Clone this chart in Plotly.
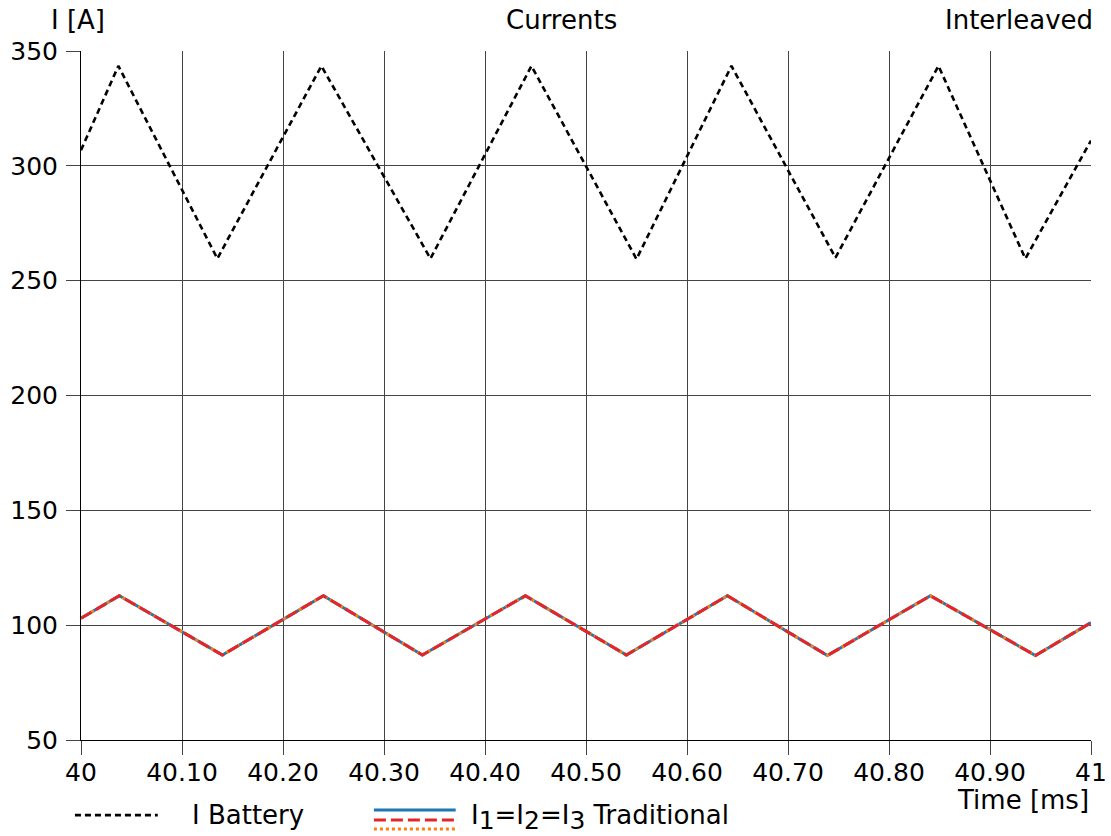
import plotly.graph_objects as go

# ---- data ----
t_battery = [40.0, 40.037, 40.135, 40.238, 40.346, 40.446, 40.550, 40.644, 40.747, 40.849, 40.935, 41.0]
i_battery = [306.8, 343.5, 259.6, 343.5, 259.6, 343.5, 259.4, 343.5, 260.0, 343.5, 259.6, 311.0]

t_phase = [40.0, 40.038, 40.140, 40.240, 40.338, 40.440, 40.540, 40.640, 40.739, 40.841, 40.945, 41.0]
i_1 = [103.0, 112.8, 87.0, 112.8, 87.0, 112.8, 87.0, 112.8, 86.8, 112.8, 86.8, 101.1]
i_2 = list(i_1)
i_3 = list(i_1)

x_tickvals = [40.0, 40.1, 40.2, 40.3, 40.4, 40.5, 40.6, 40.7, 40.8, 40.9, 41.0]
x_ticktext = ["40", "40.10", "40.20", "40.30", "40.40", "40.50", "40.60", "40.70", "40.80", "40.90", "41"]
y_tickvals = [50, 100, 150, 200, 250, 300, 350]

FONT = "DejaVu Sans"
FS_TICK = 25
FS_TEXT = 26
BLUE, RED, ORANGE, BLACK = "#1f77b4", "#e3262b", "#ff7f0e", "#000000"

fig = go.Figure()
fig.add_trace(go.Scatter(x=t_battery, y=i_battery, mode="lines", name="I Battery",
                         line=dict(color=BLACK, width=2.6, dash="6px,4px")))
fig.add_trace(go.Scatter(x=t_phase, y=i_1, mode="lines", name="I1",
                         line=dict(color=BLUE, width=3)))
fig.add_trace(go.Scatter(x=t_phase, y=i_3, mode="lines", name="I3",
                         line=dict(color=ORANGE, width=3, dash="3px,3px")))
fig.add_trace(go.Scatter(x=t_phase, y=i_2, mode="lines", name="I2",
                         line=dict(color=RED, width=3, dash="12px,5px")))

# ---- hand-drawn legend (stacked samples) ----
legend_samples = [
    (-0.006, 0.076, -0.109, BLACK, "6px,4px", 2.6),
    (0.290, 0.371, -0.1016, BLUE, "solid", 3),
    (0.290, 0.371, -0.1161, RED, "12px,5px", 3),
    (0.290, 0.371, -0.1292, ORANGE, "3px,3px", 3),
]
for x0, x1, yy, col, dash, w in legend_samples:
    fig.add_shape(type="line", xref="paper", yref="paper", x0=x0, x1=x1, y0=yy, y1=yy,
                  line=dict(color=col, width=w, dash=dash))

sub = lambda s: '<sub><span style="font-size:25px">%s</span></sub>' % s
ann_font = dict(family=FONT, size=FS_TEXT, color="black")
annotations = [
    dict(text="I Battery", x=0.108, y=-0.109, xanchor="left", yanchor="middle"),
    dict(text="I%s=I%s=I%s Traditional" % (sub("1"), sub("2"), sub("3")), x=0.384, y=-0.112,
         xanchor="left", yanchor="middle"),
    dict(text="Time [ms]", x=1.0, y=-0.087, xanchor="right", yanchor="middle"),
    dict(text="I [A]", x=-0.032, y=1.045, xanchor="left", yanchor="middle"),
    dict(text="Currents", x=0.476, y=1.045, xanchor="center", yanchor="middle"),
    dict(text="Interleaved", x=1.004, y=1.045, xanchor="right", yanchor="middle"),
]
for a in annotations:
    fig.add_annotation(xref="paper", yref="paper", showarrow=False, font=ann_font, **a)

axis_common = dict(showgrid=True, gridcolor="#444444", gridwidth=1,
                   showline=True, linecolor="black", linewidth=1,
                   ticks="outside", ticklen=14, tickcolor="#444444",
                   tickfont=dict(family=FONT, size=FS_TICK, color="black"),
                   zeroline=False, automargin=False)

fig.update_xaxes(range=[40, 41], tickvals=x_tickvals, ticktext=x_ticktext,
                 ticklabelstandoff=-4, **axis_common)
fig.update_yaxes(range=[50, 350], tickvals=y_tickvals, ticklabelstandoff=3, **axis_common)

fig.update_layout(
    width=1111, height=836,
    margin=dict(l=81, r=20, t=51, b=96),
    paper_bgcolor="white", plot_bgcolor="white",
    showlegend=False,
    font=dict(family=FONT, size=FS_TEXT, color="black"),
)

fig.write_html("out.html", config={"displayModeBar": False},
               post_script="document.body.style.margin='0';document.body.style.overflow='hidden';")
